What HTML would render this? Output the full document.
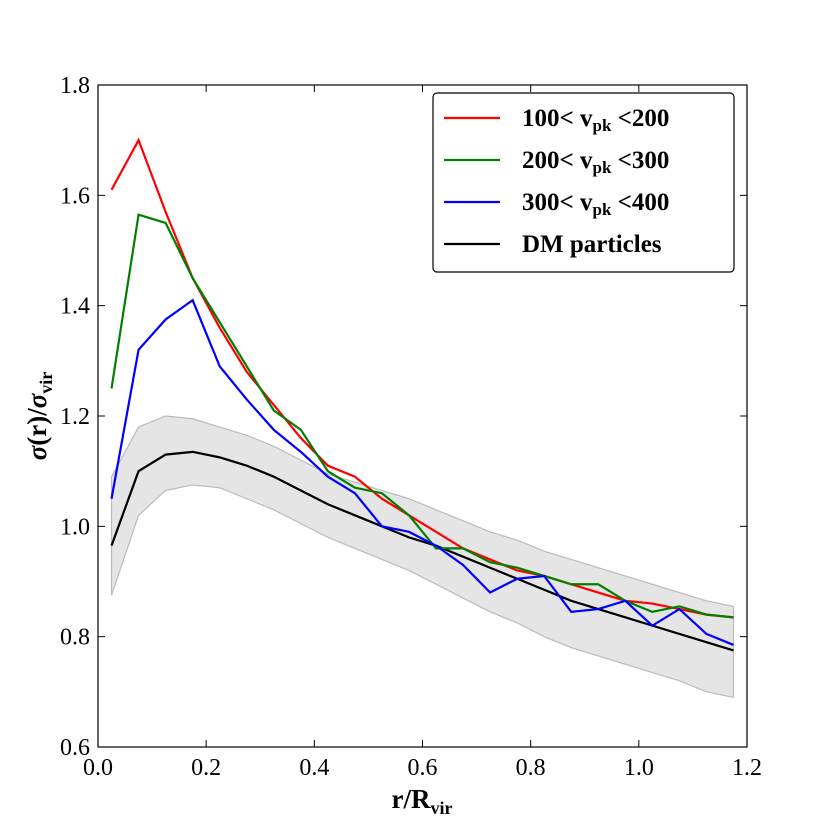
<!DOCTYPE html>
<html><head><meta charset="utf-8"><style>
body{margin:0;background:#fff}
svg text{font-family:"Liberation Serif",serif;fill:#000}
</style></head><body>
<svg id="chart" width="830" height="830" xmlns="http://www.w3.org/2000/svg">
<rect width="830" height="830" fill="#fff"/>
<g id="plot"></g>
</svg>
<script>
const xs=[0.025,0.075,0.125,0.175,0.225,0.275,0.325,0.375,0.425,0.475,0.525,0.575,0.625,0.675,0.725,0.775,0.825,0.875,0.925,0.975,1.025,1.075,1.125,1.175];
const red=[1.61,1.70,1.57,1.45,1.36,1.28,1.22,1.16,1.11,1.09,1.05,1.02,0.99,0.96,0.94,0.92,0.91,0.895,0.88,0.865,0.86,0.85,0.84,0.835];
const green=[1.25,1.565,1.55,1.45,1.37,1.29,1.21,1.175,1.10,1.07,1.06,1.02,0.96,0.96,0.935,0.925,0.91,0.895,0.895,0.865,0.845,0.855,0.84,0.835];
const blue=[1.05,1.32,1.375,1.41,1.29,1.23,1.175,1.135,1.09,1.06,1.00,0.99,0.965,0.93,0.88,0.905,0.91,0.845,0.85,0.865,0.82,0.85,0.805,0.785];
const black=[0.965,1.10,1.13,1.135,1.125,1.11,1.09,1.065,1.04,1.02,1.00,0.98,0.965,0.945,0.925,0.905,0.885,0.865,0.85,0.835,0.82,0.805,0.79,0.775];
const bandHi=[1.09,1.18,1.20,1.195,1.18,1.165,1.145,1.12,1.095,1.08,1.065,1.05,1.03,1.01,0.99,0.975,0.955,0.94,0.925,0.91,0.895,0.88,0.865,0.855];
const bandLo=[0.875,1.02,1.065,1.075,1.07,1.05,1.03,1.005,0.98,0.96,0.94,0.92,0.895,0.87,0.845,0.825,0.80,0.78,0.765,0.75,0.735,0.72,0.70,0.69];
const xTicks=[0,0.2,0.4,0.6,0.8,1.0,1.2];
const xTickLabels=["0.0","0.2","0.4","0.6","0.8","1.0","1.2"];
const yTicks=[0.6,0.8,1.0,1.2,1.4,1.6,1.8];
const yTickLabels=["0.6","0.8","1.0","1.2","1.4","1.6","1.8"];
const L=98,R=747,T=85,B=747;
const X=v=>L+(v-0)/(1.2)*(R-L);
const Y=v=>B-(v-0.6)/(1.2)*(B-T);
const NS="http://www.w3.org/2000/svg";
const g=document.getElementById('plot');
function mk(t,a,p){const e=document.createElementNS(NS,t);for(const k in a)e.setAttribute(k,a[k]);(p||g).appendChild(e);return e;}
let d="M"+xs.map((x,i)=>X(x)+","+Y(bandHi[i])).join("L")+"L"+xs.map((x,i)=>X(x)+","+Y(bandLo[i])).reverse().join("L")+"Z";
let band=mk('path',{d:d,fill:'#e5e5e5',stroke:'#bbbbbb','stroke-width':1.2});


function line(arr,col,name){const p=mk('path',{d:"M"+xs.map((x,i)=>X(x)+","+Y(arr[i])).join("L"),fill:'none',stroke:col,'stroke-width':2.2});

}
line(black,'#000','line-dm-particles');
line(red,'#ff0000','line-vpk-100-200');
line(green,'#008000','line-vpk-200-300');
line(blue,'#0000ff','line-vpk-300-400');
const fr=mk('rect',{x:L,y:T,width:R-L,height:B-T,fill:'none',stroke:'#000','stroke-width':1.2});


xTicks.forEach((v,i)=>{const x=X(v);
mk('line',{x1:x,x2:x,y1:B,y2:B-7,stroke:'#000'});mk('line',{x1:x,x2:x,y1:T,y2:T+7,stroke:'#000'});
const t=mk('text',{x:x,y:B+28,'text-anchor':'middle','font-size':24});t.textContent=xTickLabels[i];

});
yTicks.forEach((v,i)=>{const y=Y(v);
mk('line',{x1:L,x2:L+7,y1:y,y2:y,stroke:'#000'});mk('line',{x1:R,x2:R-7,y1:y,y2:y,stroke:'#000'});
const t=mk('text',{x:L-8,y:y+8,'text-anchor':'end','font-size':24});t.textContent=yTickLabels[i];

});
let xt=mk('text',{x:422,y:808,'text-anchor':'middle','font-size':27,'font-weight':'bold'});
xt.innerHTML='r/R<tspan font-size="18" dy="6">vir</tspan>';


let yt=mk('text',{transform:'translate(46,416) rotate(-90)','text-anchor':'middle','font-size':27,'font-weight':'bold'});
yt.innerHTML='<tspan font-style="italic">σ</tspan>(r)/<tspan font-style="italic">σ</tspan><tspan font-size="18" dy="6">vir</tspan>';


const lg=mk('g',{});


mk('rect',{x:433,y:93,width:301,height:179,rx:4,fill:'#fff',stroke:'#000','stroke-width':1.2},lg);
const entries=[['#ff0000','100&lt; v<tspan font-size="17" dy="5">pk</tspan><tspan dy="-5"> &lt;200</tspan>'],['#008000','200&lt; v<tspan font-size="17" dy="5">pk</tspan><tspan dy="-5"> &lt;300</tspan>'],['#0000ff','300&lt; v<tspan font-size="17" dy="5">pk</tspan><tspan dy="-5"> &lt;400</tspan>'],['#000','DM particles']];
entries.forEach((e,i)=>{const y=118+i*42;
const it=mk('g',{},lg);


mk('line',{x1:444,x2:500,y1:y,y2:y,stroke:e[0],'stroke-width':2.2},it);
const t=mk('text',{x:522,y:y+8,'font-size':25,'font-weight':'bold'},it);t.innerHTML=e[1];});
</script>
</body></html>
